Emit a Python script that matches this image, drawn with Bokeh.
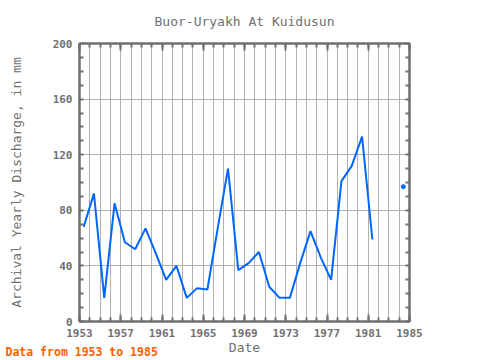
import math
from bokeh.plotting import figure
from bokeh.models import FixedTicker, LinearAxis, Title
from bokeh.embed import file_html
from bokeh.resources import INLINE

title = "Buor-Uryakh At Kuidusun"
footer = "Data from 1953 to 1985"
years = list(range(1953, 1986))
discharge = [68, 92, 17, 85, 57, 52, 67, 49, 30, 40, 17, 24, 23, 67, 110,
             37, 42, 50, 25, 17, 17, 42, 65, 46, 30, 101, 112, 133, 59,
             None, None, 97, None]
x_ticks = [1953, 1957, 1961, 1965, 1969, 1973, 1977, 1981, 1985]
y_ticks = [0, 40, 80, 120, 160, 200]

GRAY = "#707070"
FONT = "DejaVu Sans Mono"

xs = [y + 0.4 for y in years]
ys = [float("nan") if v is None else v for v in discharge]

# isolated points (no neighbour on either side)
iso_x, iso_y = [], []
for i, v in enumerate(discharge):
    if v is None:
        continue
    prev_ok = i > 0 and discharge[i - 1] is not None
    next_ok = i < len(discharge) - 1 and discharge[i + 1] is not None
    if not prev_ok and not next_ok:
        iso_x.append(xs[i])
        iso_y.append(v)

p = figure(width=480, height=360, output_backend="svg", toolbar_location=None,
           x_range=(1953, 1985), y_range=(0, 200),
           min_border_left=79, min_border_right=71, min_border_top=42, min_border_bottom=39)

p.title.text = title
p.title.text_font = FONT
p.title.text_font_size = "13px"
p.title.text_font_style = "normal"
p.title.text_color = GRAY
p.title.align = "center"
p.title.offset = 6
p.title.vertical_align = "top"
p.title.standoff = 26

p.background_fill_color = "white"
p.border_fill_color = "white"
p.outline_line_color = GRAY
p.outline_line_width = 2

p.line(xs, ys, line_color="#0066ff", line_width=2)
p.scatter(iso_x, iso_y, size=4, color="#0066ff")

p.xaxis.ticker = FixedTicker(ticks=x_ticks, minor_ticks=years)
p.yaxis.ticker = FixedTicker(ticks=y_ticks, minor_ticks=list(range(0, 201, 10)))
p.xgrid.ticker = FixedTicker(ticks=years)
p.ygrid.ticker = FixedTicker(ticks=y_ticks)
for g in (p.xgrid, p.ygrid):
    g.grid_line_color = "#b0b0b0"
    g.grid_line_width = 1

def style_axis(ax):
    ax.axis_line_color = GRAY
    ax.axis_line_width = 2
    ax.major_tick_line_color = GRAY
    ax.minor_tick_line_color = GRAY
    ax.major_tick_line_width = 2
    ax.minor_tick_line_width = 2
    ax.major_tick_in = 7
    ax.major_tick_out = 0
    ax.minor_tick_in = 4
    ax.minor_tick_out = 0
    ax.major_label_text_font = FONT
    ax.major_label_text_font_size = "11px"
    ax.major_label_text_font_style = "bold"
    ax.major_label_text_color = GRAY
    ax.axis_label_text_font = FONT
    ax.axis_label_text_font_size = "13px"
    ax.axis_label_text_font_style = "normal"
    ax.axis_label_text_color = GRAY

style_axis(p.xaxis[0])
style_axis(p.yaxis[0])
p.xaxis.axis_label = "Date"
p.xaxis.major_label_standoff = 7
p.xaxis.axis_label_standoff = 0
p.yaxis.axis_label = "Archival Yearly Discharge, in mm"
p.yaxis.major_label_standoff = 7
p.yaxis.axis_label_standoff = 26
p.yaxis.major_tick_in = 0

top = LinearAxis(ticker=FixedTicker(ticks=x_ticks, minor_ticks=years))
right = LinearAxis(ticker=FixedTicker(ticks=y_ticks, minor_ticks=list(range(0, 201, 10))))
style_axis(top)
style_axis(right)
top.major_label_overrides = {t: "" for t in x_ticks}
right.major_label_overrides = {t: "" for t in y_ticks}
top.major_label_standoff = 0
right.major_label_standoff = 0
right.major_tick_in = 0
p.add_layout(top, "above")
p.add_layout(right, "right")

foot = Title(text=footer, align="left", offset=-74, vertical_align="top", standoff=-26,
             text_font=FONT, text_font_size="11.5px", text_font_style="bold",
             text_color="#ff6000")
p.add_layout(foot, "below")

open("out.html", "w").write(file_html(p, INLINE))
